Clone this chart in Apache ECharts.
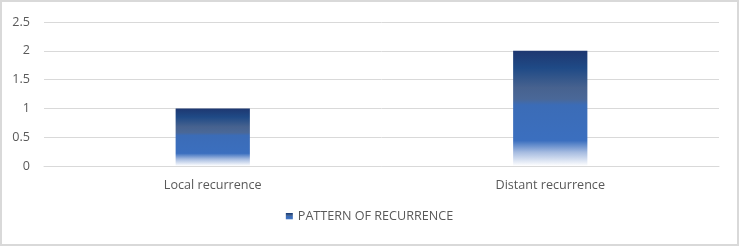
<!DOCTYPE html>
<html><head><meta charset="utf-8">
<script src="https://cdn.jsdelivr.net/npm/echarts@6/dist/echarts.min.js"></script>
<style>
html,body{margin:0;padding:0;background:#fff;}
#wrap{position:absolute;left:0;top:0;width:735px;height:242px;border:2px solid #d9d9d9;}
#c{width:735px;height:242px;}
</style></head>
<body><div id="wrap"><div id="c"></div></div>
<script>
const categories = ["Local recurrence", "Distant recurrence"];
const values = [1, 2];
const seriesName = "PATTERN OF RECURRENCE";
const yTicks = [0, 0.5, 1, 1.5, 2, 2.5];

const grad = new echarts.graphic.LinearGradient(0, 0, 0, 1, [
  {offset: 0, color: '#1e3770'},
  {offset: 0.15, color: '#1f4a86'},
  {offset: 0.32, color: '#47628f'},
  {offset: 0.42, color: '#4a6898'},
  {offset: 0.47, color: '#3b6cb7'},
  {offset: 0.78, color: '#3b6fbf'},
  {offset: 0.88, color: '#a5bbe0'},
  {offset: 1, color: '#ffffff'}
]);

const chart = echarts.init(document.getElementById('c'));
chart.setOption({
  animation: false,
  grid: {left: 42, right: 18, top: 20, bottom: 78, containLabel: false},
  legend: {
    data: [{name: seriesName, icon: 'rect'}], bottom: 16, left: 'center',
    itemWidth: 7, itemHeight: 7, itemGap: 5,
    textStyle: {color: '#595959', fontSize: 12.6, fontFamily: 'Open Sans'}
  },
  xAxis: {
    type: 'category', data: categories,
    axisLine: {show: true, lineStyle: {color: '#d9d9d9'}},
    axisTick: {show: false},
    axisLabel: {color: '#595959', fontSize: 12.6, fontFamily: 'Open Sans', margin: 13}
  },
  yAxis: {
    type: 'value', min: yTicks[0], max: yTicks[yTicks.length-1], interval: 0.5,
    axisLine: {show: false}, axisTick: {show: false},
    splitLine: {lineStyle: {color: '#d9d9d9'}},
    axisLabel: {color: '#595959', fontSize: 12.6, fontFamily: 'Open Sans', margin: 14}
  },
  series: [{
    name: seriesName, type: 'bar', data: values, barWidth: '22%',
    itemStyle: {color: grad}
  }]
});
</script></body></html>
